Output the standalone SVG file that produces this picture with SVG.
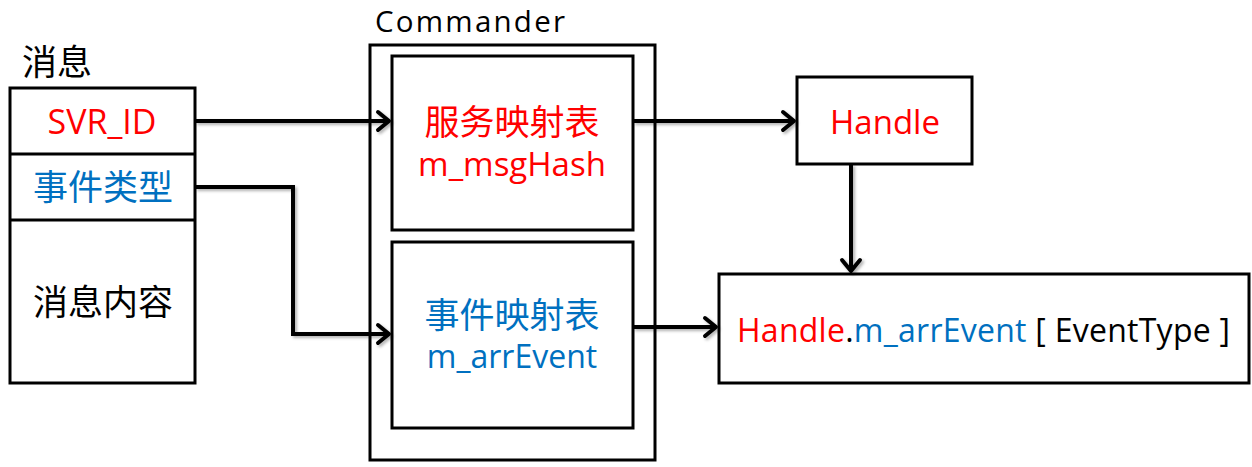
<svg xmlns="http://www.w3.org/2000/svg" width="1252" height="467" viewBox="0 0 1252 467">
<style>
.box{fill:#fff;stroke:#000;stroke-width:3}
.t{font-family:"Open Sans","Noto Sans CJK SC",sans-serif;font-size:31px}
.c{font-family:"Noto Sans CJK SC",sans-serif;font-size:35px}
.red{fill:#ff0000}
.blue{fill:#0070c0}
.blk{fill:#000}
.conn{fill:none;stroke:#000;stroke-width:4;stroke-linejoin:miter}
</style>
<defs>
<marker id="arr" viewBox="-14 -12 18 24" refX="0" refY="0" markerWidth="18" markerHeight="24" markerUnits="userSpaceOnUse" orient="auto" overflow="visible">
<path d="M-11,-9 L0,0 L-11,9" fill="none" stroke="#000" stroke-width="4" stroke-linecap="round" stroke-linejoin="round"/>
</marker>
<filter id="sh" x="-5%" y="-50%" width="110%" height="200%">
<feDropShadow dx="2" dy="2" stdDeviation="1.5" flood-color="#000" flood-opacity="0.3"/>
</filter>
</defs>

<g id="msg">
<text class="c blk" x="22" y="75">消息</text>
<rect class="box" x="10" y="88" width="185" height="295"/>
<line x1="10" y1="154" x2="195" y2="154" stroke="#000" stroke-width="3"/>
<line x1="10" y1="220" x2="195" y2="220" stroke="#000" stroke-width="3"/>
<text class="t red" x="102" y="134" text-anchor="middle" style="font-size:34px">SVR_ID</text>
<text class="c blue" x="103" y="200" text-anchor="middle">事件类型</text>
<text class="c blk" x="103" y="315" text-anchor="middle">消息内容</text>
</g>

<g id="commander">
<text class="t blk" x="375" y="32" style="font-size:29.5px" textLength="190" lengthAdjust="spacing">Commander</text>
<rect class="box" x="370" y="45" width="285" height="415"/>
</g>

<g id="svcmap">
<rect class="box" x="392" y="56" width="241" height="174"/>
<text class="c red" x="512" y="135" text-anchor="middle">服务映射表</text>
<text class="t red" x="512" y="176" text-anchor="middle" style="font-size:33px">m_msgHash</text>
</g>

<g id="evtmap">
<rect class="box" x="392" y="242" width="241" height="186"/>
<text class="c blue" x="512" y="328" text-anchor="middle">事件映射表</text>
<text class="t blue" x="512" y="368" text-anchor="middle" style="font-size:32px">m_arrEvent</text>
</g>

<g id="handle">
<rect class="box" x="797" y="77" width="175" height="87"/>
<text class="t red" x="885" y="134" text-anchor="middle" style="font-size:33px">Handle</text>
</g>

<g id="result">
<rect class="box" x="719" y="274" width="530" height="109"/>
<text class="t" x="737" y="342" style="font-size:32px" textLength="493" lengthAdjust="spacing"><tspan class="red">Handle</tspan><tspan class="blk">.</tspan><tspan class="blue">m_arrEvent</tspan><tspan class="blk"> [ EventType ]</tspan></text>
</g>

<g id="connectors" filter="url(#sh)">
<path class="conn" d="M195,121 H389" marker-end="url(#arr)"/>
<path class="conn" d="M195,187 H293 V334 H389" marker-end="url(#arr)"/>
<path class="conn" d="M633,121 H794" marker-end="url(#arr)"/>
<path class="conn" d="M851,164 V271" marker-end="url(#arr)"/>
<path class="conn" d="M633,327 H716" marker-end="url(#arr)"/>
</g>
</svg>
